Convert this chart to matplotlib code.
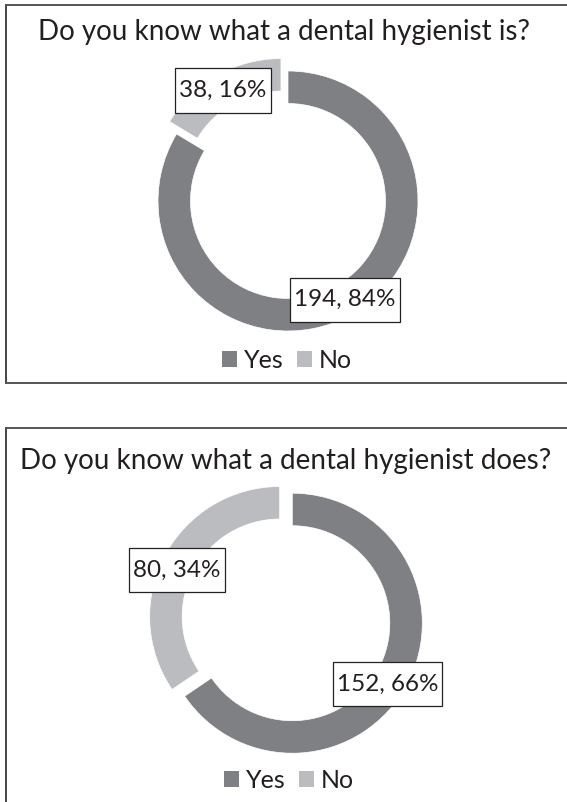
import matplotlib
matplotlib.use("Agg")
import matplotlib.pyplot as plt
from matplotlib.patches import Rectangle, Patch

# --- dados ---
categorias = ["Yes", "No"]
contagem_is = [194, 38]
pct_is = [84, 16]
contagem_does = [152, 80]
pct_does = [66, 34]
titulos = ["Do you know what a dental hygienist is?",
           "Do you know what a dental hygienist does?"]

cor_yes = "#7f8084"
cor_no = "#bbbcc0"
cor_texto = "#231f20"

plt.rcParams['font.family'] = ['Lato', 'DejaVu Sans']

W, H = 567, 802
fig = plt.figure(figsize=(W / 100, H / 100), dpi=100)


def fx(x):
    return x / W


def fy(y):
    return 1 - y / H


def painel(ytop, ybot, draw_bottom=True):
    # moldura do painel (passa da borda direita)
    lw = 1.4
    fig.add_artist(plt.Line2D([fx(6), fx(6)], [fy(ytop), fy(ybot)], color="#444444", lw=lw))
    fig.add_artist(plt.Line2D([fx(6), fx(W + 5)], [fy(ytop), fy(ytop)], color="#555555", lw=lw))
    if draw_bottom:
        fig.add_artist(plt.Line2D([fx(6), fx(W + 5)], [fy(ybot), fy(ybot)], color="#555555", lw=lw))


rotulos = []


def donut(cx, cy, R, valores, contagens, pcts, explode, pos_rotulos, titulo, ty, ly):
    S = 160
    ax = fig.add_axes([fx(cx - S), fy(cy + S), 2 * S / W, 2 * S / H])
    lim = S / R
    ax.set_aspect('equal')
    ax.axis('off')
    wedges, _ = ax.pie(valores, colors=[cor_yes, cor_no], startangle=90, counterclock=False,
                       explode=explode, radius=1.0,
                       wedgeprops=dict(width=0.25, edgecolor='white', linewidth=0.5))
    for w in wedges:
        w.set_clip_on(False)
    ax.set_xlim(-lim, lim)
    ax.set_ylim(-lim, lim)
    for (px, py), c, p in zip(pos_rotulos, contagens, pcts):
        t = ax.text(px, py, f"{c}, {p}%", ha='center', va='center', fontsize=17.5,
                    color=cor_texto, zorder=5)
        rotulos.append((ax, t))
    fig.text(fx(cx - 4), fy(ty), titulo, ha='center', va='center', fontsize=20, color=cor_texto)
    handles = [Patch(facecolor=cor_yes, edgecolor='none'), Patch(facecolor=cor_no, edgecolor='none')]
    fig.legend(handles, categorias, loc='center', bbox_to_anchor=(fx(cx - 1), fy(ly)), ncol=2,
               frameon=False, fontsize=18, handlelength=0.6, handleheight=0.6,
               handletextpad=0.3, columnspacing=0.5, labelcolor=cor_texto)


painel(5, 383)
painel(428, H + 5, draw_bottom=False)

donut(288, 201, 130, contagem_is, contagem_is, pct_is, [0, 0.11],
      [(0.44, -0.76), (-0.50, 0.85)], titulos[0], 32, 360)
donut(290, 622, 130, contagem_does, contagem_does, pct_does, [0.02, 0.09],
      [(0.75, -0.48), (-0.87, 0.40)], titulos[1], 461, 780)

# caixas brancas dos rotulos, com folga maior na vertical
fig.canvas.draw()
ren = fig.canvas.get_renderer()
for ax, t in rotulos:
    bb = t.get_window_extent(ren)
    x0, x1 = bb.x0 - 4, bb.x1 + 4
    ymid = (bb.y0 + bb.y1) / 2
    y0, y1 = ymid - 22, ymid + 22
    rect = Rectangle((x0 / W, y0 / H), (x1 - x0) / W, (y1 - y0) / H, transform=fig.transFigure,
                     fc='white', ec='#222222', lw=0.9, zorder=4)
    ax.add_artist(rect)
    rect.set_clip_on(False)

fig.savefig("out.png", dpi=100, facecolor='white')
